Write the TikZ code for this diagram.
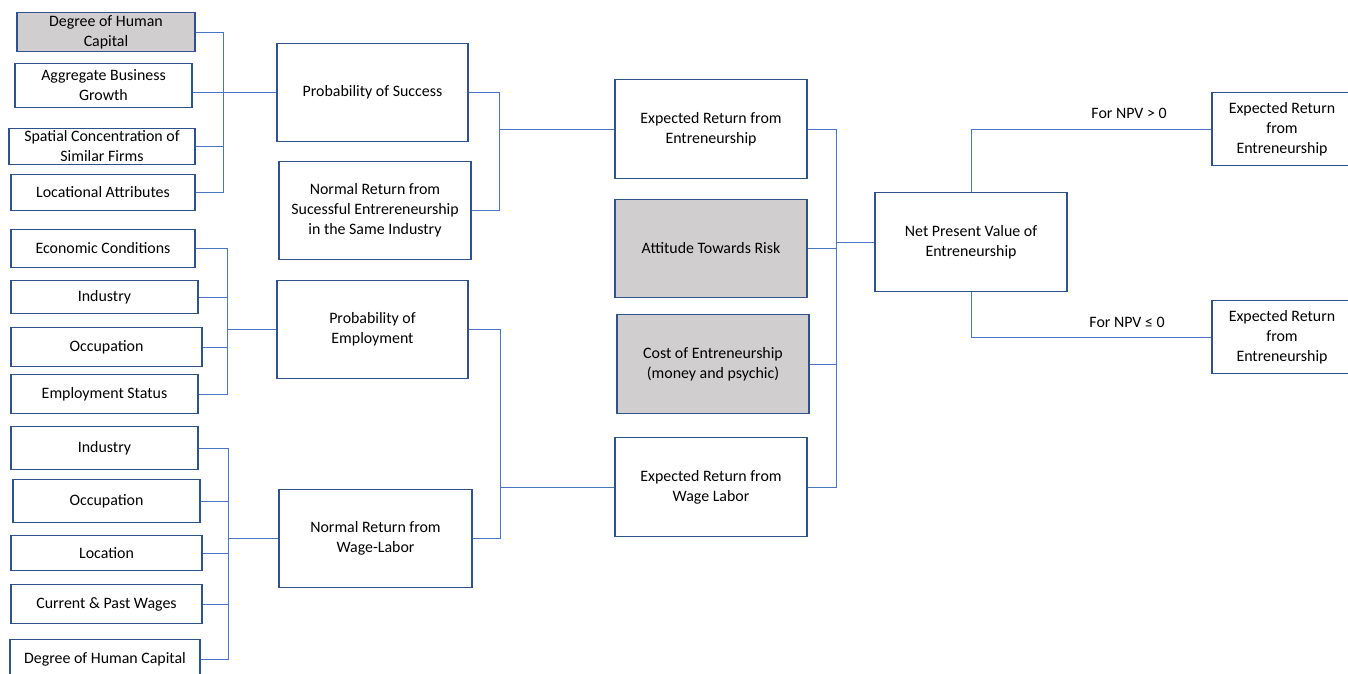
\documentclass[tikz,border=0pt]{standalone}
\usepackage{fontspec}
\setmainfont{Carlito}
\definecolor{boxblue}{HTML}{2F528F}
\definecolor{linkblue}{HTML}{4A76C6}
\definecolor{shade}{HTML}{D0CECE}
\begin{document}
\begin{tikzpicture}[x=1pt,y=-1pt,
  box/.style={draw=boxblue, line width=1.3pt, fill=white, align=center, inner sep=0pt,
    font=\fontsize{15.9}{20}\selectfont},
  graybox/.style={box, fill=shade},
  conn/.style={draw=linkblue, line width=0.9pt},
  lbl/.style={font=\fontsize{15.9}{20}\selectfont, inner sep=0pt}]
\useasboundingbox (0,0) rectangle (1348,674);
% left column, group 1
\node[graybox, minimum width=178pt, minimum height=39pt] (dhc1) at (106,32) {Degree of Human\\Capital};
\node[box, minimum width=177pt, minimum height=44pt] (abg) at (103.5,85.5) {Aggregate Business\\Growth};
\node[box, minimum width=186pt, minimum height=36pt] (scsf) at (102,146.5) {Spatial Concentration of\\Similar Firms};
\node[box, minimum width=184pt, minimum height=36pt] (la) at (103,192.5) {Locational Attributes};
% group 2
\node[box, minimum width=184pt, minimum height=38pt] (ec) at (103,248.5) {Economic Conditions};
\node[box, minimum width=187pt, minimum height=33pt] (ind1) at (104.5,297) {Industry};
\node[box, minimum width=191pt, minimum height=39pt] (occ1) at (106.5,347) {Occupation};
\node[box, minimum width=187pt, minimum height=39pt] (es) at (104.5,394) {Employment Status};
% group 3
\node[box, minimum width=187pt, minimum height=43pt] (ind2) at (104.5,448) {Industry};
\node[box, minimum width=187pt, minimum height=43pt] (occ2) at (106.5,501) {Occupation};
\node[box, minimum width=191pt, minimum height=35pt] (loc) at (106.5,553) {Location};
\node[box, minimum width=191pt, minimum height=39pt] (cpw) at (106.5,604) {Current \& Past Wages};
\node[box, minimum width=190pt, minimum height=39pt] (dhc2) at (105,659) {Degree of Human Capital};
% second column
\node[box, minimum width=191pt, minimum height=98pt] (pos) at (372.5,92.5) {Probability of Success};
\node[box, minimum width=192pt, minimum height=98pt] (nrse) at (375,210.5) {Normal Return from\\Sucessful Entrereneurship\\in the Same Industry};
\node[box, minimum width=191pt, minimum height=98pt] (poe) at (372.5,329.5) {Probability of\\Employment};
\node[box, minimum width=193pt, minimum height=98pt] (nrwl) at (375.5,538.5) {Normal Return from\\Wage-Labor};
% third column
\node[box, minimum width=192pt, minimum height=99pt] (ere) at (711,129) {Expected Return from\\Entreneurship};
\node[graybox, minimum width=192pt, minimum height=98pt] (atr) at (711,248.5) {Attitude Towards Risk};
\node[graybox, minimum width=192pt, minimum height=99pt] (coe) at (713,364) {Cost of Entreneurship\\(money and psychic)};
\node[box, minimum width=192pt, minimum height=99pt] (erwl) at (711,487) {Expected Return from\\Wage Labor};
% NPV and outcomes
\node[box, minimum width=192pt, minimum height=99pt] (npv) at (971,242) {Net Present Value of\\Entreneurship};
\node[box, minimum width=140pt, minimum height=73pt] (r1) at (1282,129) {Expected Return\\from\\Entreneurship};
\node[box, minimum width=140pt, minimum height=73pt] (r2) at (1282,337) {Expected Return\\from\\Entreneurship};
% junction coordinates
\coordinate (b1) at (223,92.5);
\coordinate (b2) at (227,329.5);
\coordinate (b3) at (228,538.5);
\coordinate (m1) at (499,129);
\coordinate (m2) at (500,487);
\coordinate (rj) at (836,242);
% group 1 connectors
\draw[conn] (dhc1.east) -| (b1);
\draw[conn] (la.east) -| (b1);
\draw[conn] (scsf.east) -- (scsf.east -| b1);
\draw[conn] (abg.east |- b1) -- (b1) -- (pos.west);
% group 2 connectors
\draw[conn] (ec.east) -| (b2);
\draw[conn] (es.east) -| (b2);
\draw[conn] (ind1.east) -- (ind1.east -| b2);
\draw[conn] (occ1.east) -- (occ1.east -| b2);
\draw[conn] (b2) -- (poe.west);
% group 3 connectors
\draw[conn] (ind2.east) -| (b3);
\draw[conn] (dhc2.east) -| (b3);
\draw[conn] (occ2.east) -- (occ2.east -| b3);
\draw[conn] (loc.east) -- (loc.east -| b3);
\draw[conn] (cpw.east) -- (cpw.east -| b3);
\draw[conn] (b3) -- (nrwl.west);
% middle connectors
\draw[conn] (pos.east) -| (m1);
\draw[conn] (nrse.east) -| (m1);
\draw[conn] (m1) -- (ere.west);
\draw[conn] (poe.east) -| (m2);
\draw[conn] (nrwl.east) -| (m2);
\draw[conn] (m2) -- (erwl.west);
% right connectors
\draw[conn] (ere.east) -| (rj);
\draw[conn] (erwl.east) -| (rj);
\draw[conn] (atr.east) -- (atr.east -| rj);
\draw[conn] (coe.east) -- (coe.east -| rj);
\draw[conn] (rj) -- (npv.west);
% NPV branches
\draw[conn] (npv.north) |- (r1.west);
\draw[conn] (npv.south) |- (r2.west);
\node[lbl] (l1) at (1129,113.5) {For NPV > 0};
\node[lbl] (l2) at (1127,322.5) {For NPV ≤ 0};
\end{tikzpicture}
\end{document}
